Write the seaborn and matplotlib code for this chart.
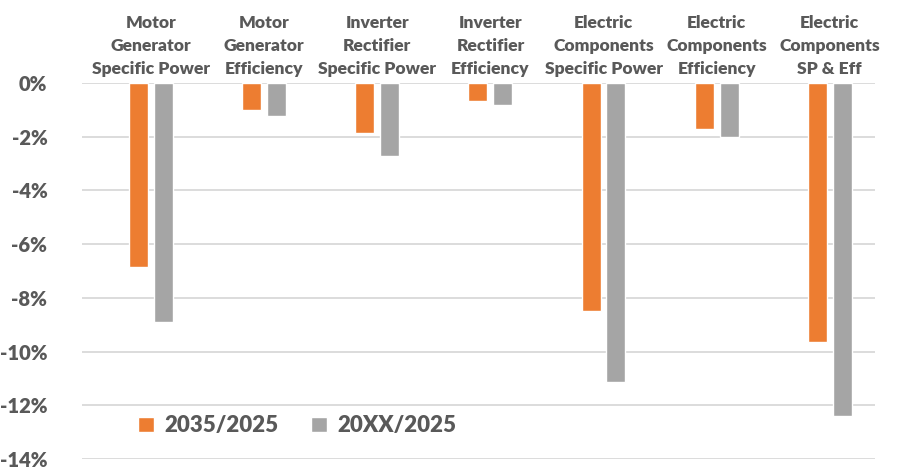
import matplotlib
matplotlib.use("Agg")
import matplotlib.pyplot as plt
import seaborn as sns
import pandas as pd
from matplotlib.patches import Patch
from matplotlib.ticker import FuncFormatter

categories = [
    "Motor\nGenerator\nSpecific Power",
    "Motor\nGenerator\nEfficiency",
    "Inverter\nRectifier\nSpecific Power",
    "Inverter\nRectifier\nEfficiency",
    "Electric\nComponents\nSpecific Power",
    "Electric\nComponents\nEfficiency",
    "Electric\nComponents\nSP & Eff",
]
series_names = ["2035/2025", "20XX/2025"]
values_2035 = [-6.85, -1.0, -1.88, -0.67, -8.49, -1.72, -9.66]
values_20xx = [-8.90, -1.23, -2.72, -0.82, -11.13, -2.01, -12.41]
y_ticks = [0, -2, -4, -6, -8, -10, -12, -14]

df = pd.DataFrame({
    "category": categories * 2,
    "series": [series_names[0]] * len(categories) + [series_names[1]] * len(categories),
    "value": values_2035 + values_20xx,
})

ORANGE = "#ED7D31"
GRAY = "#A5A5A5"
TEXT = "#595959"
GRID = "#D9D9D9"

sns.set_theme(style="white")
plt.rcParams["font.family"] = ["Lato", "DejaVu Sans"]

fig = plt.figure(figsize=(8.99, 4.70), dpi=100)
ax = fig.add_axes([82 / 899, 1 - 459 / 470, (875 - 82) / 899, (459 - 83) / 470])

sns.barplot(
    data=df, x="category", y="value", hue="series",
    palette=[ORANGE, GRAY], width=0.44, gap=0.24,
    order=categories, hue_order=series_names,
    ax=ax, legend=False, saturation=1, errorbar=None,
)

ax.set_ylim(-14, 0)
ax.set_xlim(-0.61, 6.40)
ax.set_yticks(y_ticks)
ax.yaxis.set_major_formatter(FuncFormatter(lambda v, _: f"{int(round(v))}%"))
ax.yaxis.grid(True, color=GRID, linewidth=1.3)
ax.set_axisbelow(True)
for s in ax.spines.values():
    s.set_visible(False)

ax.set_xlabel("")
ax.set_ylabel("")
ax.xaxis.set_ticks_position("top")
ax.tick_params(axis="x", length=0, pad=4)
ax.tick_params(axis="y", length=0, pad=25)
ax.set_xticks(range(len(categories)))
ax.set_xticklabels(categories, fontsize=12.6, fontweight="heavy", color=TEXT,
                   linespacing=1.55)
for lbl in ax.get_yticklabels():
    lbl.set_fontsize(14.5)
    lbl.set_fontweight("heavy")
    lbl.set_color(TEXT)

handles = [Patch(facecolor=ORANGE), Patch(facecolor=GRAY)]
ax.legend(handles, series_names, loc="center left", bbox_to_anchor=(0.046, 0.088),
          ncol=2, frameon=False, handlelength=0.7, handleheight=0.7,
          handletextpad=0.45, columnspacing=1.5,
          prop={"size": 16, "weight": "heavy"}, labelcolor=TEXT)

fig.savefig("out.png", dpi=100, facecolor="white")
